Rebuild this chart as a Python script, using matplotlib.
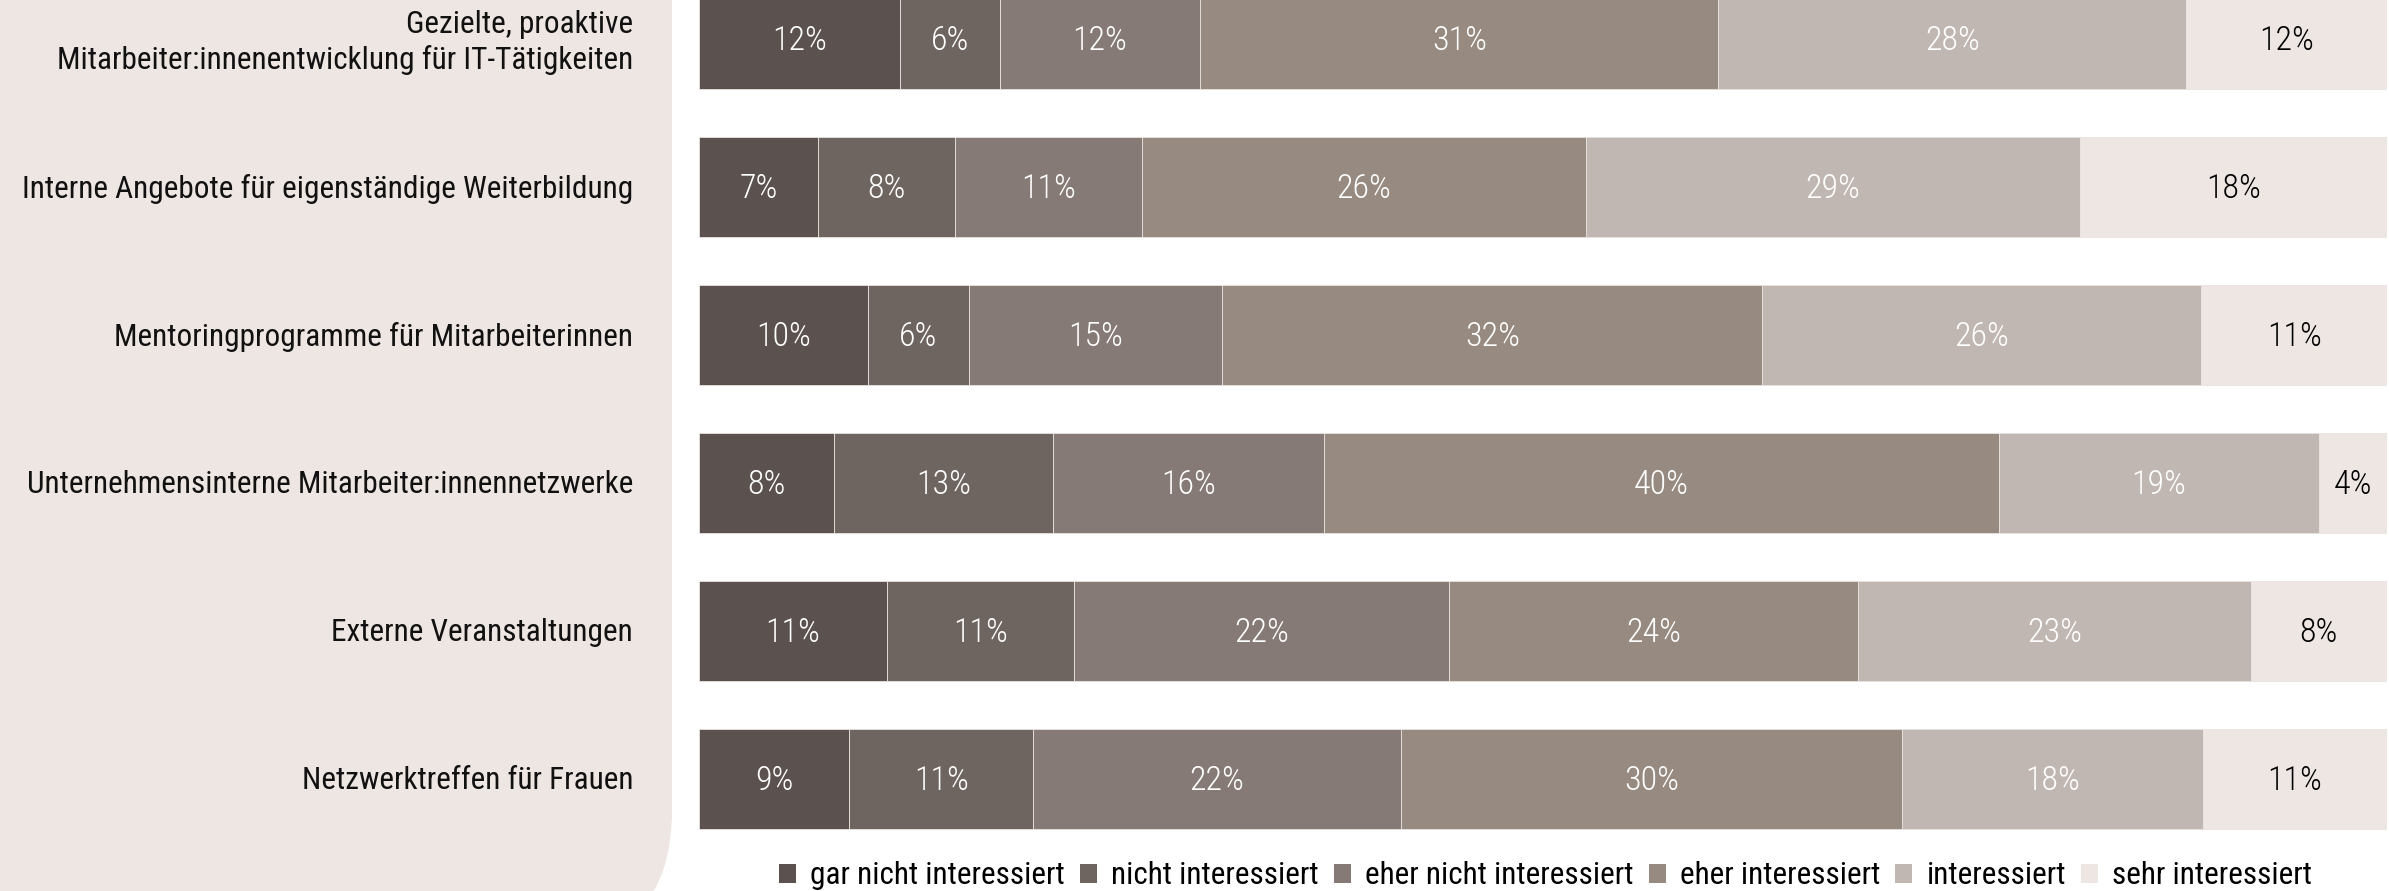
import matplotlib
matplotlib.use("Agg")
import matplotlib.pyplot as plt
from matplotlib import font_manager
from matplotlib.patches import FancyBboxPatch, Patch
import numpy as np

# ---- data -------------------------------------------------------------
categories = [
    "Gezielte, proaktive\nMitarbeiter:innenentwicklung für IT-Tätigkeiten",
    "Interne Angebote für eigenständige Weiterbildung",
    "Mentoringprogramme für Mitarbeiterinnen",
    "Unternehmensinterne Mitarbeiter:innennetzwerke",
    "Externe Veranstaltungen",
    "Netzwerktreffen für Frauen",
]
levels = [
    "gar nicht interessiert",
    "nicht interessiert",
    "eher nicht interessiert",
    "eher interessiert",
    "interessiert",
    "sehr interessiert",
]
gar_nicht = [12, 7, 10, 8, 11, 9]
nicht = [6, 8, 6, 13, 11, 11]
eher_nicht = [12, 11, 15, 16, 22, 22]
eher = [31, 26, 32, 40, 24, 30]
interessiert = [28, 29, 26, 19, 23, 18]
sehr = [12, 18, 11, 4, 8, 11]

colors = ["#5b514e", "#6f6560", "#857a75", "#968a81", "#c1b7b2", "#ede6e3"]
text_colors = ["white", "white", "white", "white", "white", "black"]

# ---- font: prefer a narrow sans --------------------------------------
available = {f.name for f in font_manager.fontManager.ttflist}
family = "Roboto"
for cand in ["Roboto Condensed", "Open Sans Condensed", "Liberation Sans Narrow"]:
    if cand in available:
        family = cand
        break
plt.rcParams["font.family"] = [family, "DejaVu Sans"]

W, H = 2389, 891
fig = plt.figure(figsize=(W / 100, H / 100), dpi=100)

# background panel behind the category labels (pixel coordinates)
bg = fig.add_axes([0, 0, 1, 1])
bg.set_xlim(0, W)
bg.set_ylim(H, 0)
bg.axis("off")
panel = FancyBboxPatch((-300, -300), 300 + 672, 300 + 945,
                       boxstyle="round,pad=0,rounding_size=135",
                       facecolor="#ede6e3", edgecolor="none")
bg.add_patch(panel)

# ---- stacked bars ----------------------------------------------------
series = np.array([gar_nicht, nicht, eher_nicht, eher, interessiert, sehr], dtype=float)
totals = series.sum(axis=0)
shares = series / totals * 100

x0, x1 = 699, 2387
ax = fig.add_axes([x0 / W, 0, (x1 - x0) / W, 1])
ax.set_xlim(0, 100)
first_c, step = 38.5, 148.0
ax.set_ylim((H - first_c) / step, -first_c / step)
ax.axis("off")

y = np.arange(len(categories))
left = np.zeros(len(categories))
for k in range(len(levels)):
    ax.barh(y, shares[k], left=left, height=100 / step, color=colors[k],
            edgecolor="#e9e3e0", linewidth=0.6)
    for i in range(len(categories)):
        ax.text(left[i] + shares[k][i] / 2, y[i] + 0.015, f"{int(series[k][i])}%",
                ha="center", va="center", fontsize=24.5, color=text_colors[k],
                fontweight="light")
    left += shares[k]

# category labels, right-aligned inside the panel
for i, lab in enumerate(categories):
    yp = first_c + step * i + (4 if "\n" in lab else 2)
    bg.text(633, yp, lab, ha="right", va="center", fontsize=22.5,
            color="#111111", linespacing=1.22, fontweight="normal")

# ---- legend ----------------------------------------------------------
handles = [Patch(facecolor=c, edgecolor="none", label=l) for c, l in zip(colors, levels)]
fig.legend(handles=handles, loc="center", ncol=6, frameon=False,
           bbox_to_anchor=(0.647, 1 - 876 / H),
           handlelength=0.55, handleheight=0.55, handletextpad=0.45,
           columnspacing=0.48, borderaxespad=0, borderpad=0,
           prop={"weight": "normal", "size": 22.5})

fig.savefig("out.png", dpi=100)
